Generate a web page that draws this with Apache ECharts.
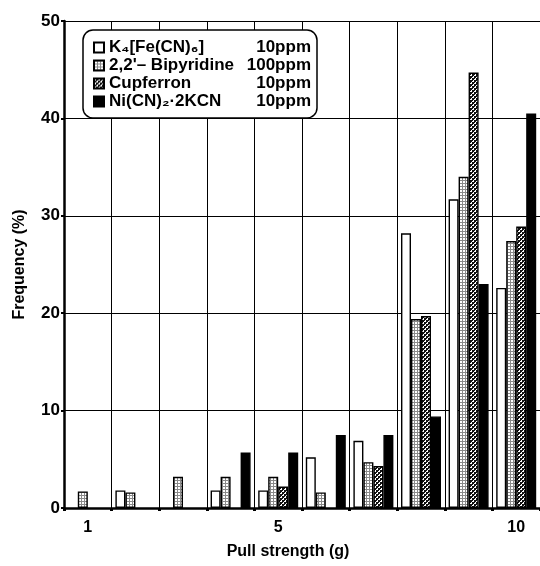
<!DOCTYPE html>
<html>
<head>
<meta charset="utf-8">
<style>html,body{margin:0;padding:0;background:#fff}#c{width:540px;height:566px}</style>
<script src="https://cdn.jsdelivr.net/npm/echarts@6/dist/echarts.min.js"></script>
</head>
<body>
<div id="c"></div>
<script>
const categories = ['1','2','3','4','5','6','7','8','9','10'];
const shownLabels = ['1','5','10'];
const seriesNames = ['K₄[Fe(CN)₆]', '2,2\'– Bipyridine', 'Cupferron', 'Ni(CN)₂·2KCN'];
const concentrations = ['10ppm', '100ppm', '10ppm', '10ppm'];
const k4fe  = [0, 1.8, 0, 1.8, 1.8, 5.2, 6.9, 28.2, 31.7, 22.6];
const bipy  = [1.7, 1.6, 3.2, 3.2, 3.2, 1.6, 4.7, 19.4, 34.0, 27.4];
const cupf  = [0, 0, 0, 0, 2.2, 0, 4.3, 19.7, 44.7, 28.9];
const nicn  = [0, 0, 0, 5.7, 5.7, 7.5, 7.5, 9.4, 23.0, 40.5];
const yTicks = [0, 10, 20, 30, 40, 50];

function makePattern(size, draw) {
  const c = document.createElement('canvas');
  c.width = size; c.height = size;
  const g = c.getContext('2d');
  draw(g);
  return { image: c, repeat: 'repeat' };
}
const gridPat = makePattern(3, g => {
  g.fillStyle = '#ffffff'; g.fillRect(0,0,3,3);
  g.fillStyle = '#8a8a8a'; g.fillRect(0,0,3,1); g.fillRect(0,0,1,3);
});
const checkPat = makePattern(4, g => {
  g.fillStyle = '#111111'; g.fillRect(0,0,4,4);
  g.fillStyle = '#ffffff'; g.fillRect(0,0,2,2); g.fillRect(2,2,2,2);
  g.fillStyle = '#111111'; g.fillRect(0,0,1,1); g.fillRect(2,2,1,1);
});

const fills = ['#ffffff', gridPat, checkPat, '#000000'];
const datasets = [k4fe, bipy, cupf, nicn];
const FONT = 'Liberation Sans';

const chart = echarts.init(document.getElementById('c'), null, {renderer: 'canvas'});
chart.setOption({
  animation: false,
  backgroundColor: '#ffffff',
  textStyle: { fontFamily: FONT },
  grid: { left: 64, top: 21, width: 478, bottom: 58, containLabel: false },
  legend: {
    left: 83, top: 30,
    orient: 'vertical',
    padding: [9, 6, 8, 10],
    itemGap: 1,
    itemWidth: 10, itemHeight: 10,
    icon: 'rect',
    backgroundColor: '#ffffff',
    borderColor: '#000', borderWidth: 1.5, borderRadius: 10,
    data: seriesNames,
    formatter: function (name) {
      const i = seriesNames.indexOf(name);
      return '{a|' + name + '}{b|' + concentrations[i] + '}';
    },
    textStyle: {
      fontFamily: FONT, fontSize: 17, fontWeight: 'bold', color: '#000', lineHeight: 17,
      rich: {
        a: { fontFamily: FONT, fontSize: 17, fontWeight: 'bold', color: '#000', width: 140, lineHeight: 17 },
        b: { fontFamily: FONT, fontSize: 17, fontWeight: 'bold', color: '#000', width: 62, align: 'right', lineHeight: 17 }
      }
    }
  },
  xAxis: {
    type: 'category',
    data: categories,
    boundaryGap: true,
    name: 'Pull strength (g)',
    nameLocation: 'middle',
    nameGap: 36,
    nameTextStyle: { fontFamily: FONT, fontSize: 16, fontWeight: 'bold', color: '#000', padding: [0, 28, 0, 0] },
    axisLine: { lineStyle: { color: '#000', width: 2.5 } },
    axisTick: { show: true, length: 3, lineStyle: { color: '#000', width: 3 } },
    axisLabel: {
      interval: 0, margin: 12,
      fontFamily: FONT, fontSize: 16, fontWeight: 'bold', color: '#000',
      formatter: v => shownLabels.indexOf(v) >= 0 ? v : ''
    },
    splitLine: { show: true, lineStyle: { color: '#000', width: 1 } }
  },
  yAxis: {
    type: 'value',
    min: yTicks[0], max: yTicks[yTicks.length - 1], interval: 10,
    name: 'Frequency (%)',
    nameLocation: 'middle',
    nameGap: 36,
    nameTextStyle: { fontFamily: FONT, fontSize: 16, fontWeight: 'bold', color: '#000' },
    axisLine: { show: true, lineStyle: { color: '#000', width: 2.5 } },
    axisTick: { show: true, length: 3, lineStyle: { color: '#000', width: 2 } },
    axisLabel: { margin: 4, fontFamily: FONT, fontSize: 17, fontWeight: 'bold', color: '#000' },
    splitLine: { show: true, lineStyle: { color: '#000', width: 1.2 } }
  },
  series: seriesNames.map((n, i) => ({
    name: n,
    type: 'bar',
    data: datasets[i].map(v => v === 0 ? '-' : v),
    barWidth: 10,
    barGap: '0%',
    itemStyle: { color: fills[i], borderColor: '#000', borderWidth: 1.4 }
  }))
});
</script>
</body>
</html>
